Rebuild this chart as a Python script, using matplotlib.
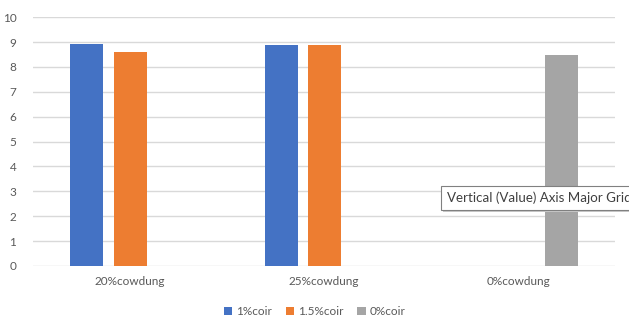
import matplotlib.pyplot as plt
from matplotlib.patches import Rectangle
import numpy as np

plt.rcParams['font.family'] = ['Lato', 'DejaVu Sans']

categories = ['20%cowdung', '25%cowdung', '0%cowdung']
series_names = ['1%coir', '1.5%coir', '0%coir']
coir_1 = [8.92, 8.88, 0]
coir_15 = [8.6, 8.88, 0]
coir_0 = [0, 0, 8.47]
colors = ['#4472c4', '#ed7d31', '#a5a5a5']

fig = plt.figure(figsize=(6.29, 3.23), dpi=100)
ax = fig.add_axes([0.0525, 0.1765, 0.9255, 0.7705])

x = np.arange(len(categories))
width = 0.17
step = 0.222
for k, (vals, name, c) in enumerate(zip([coir_1, coir_15, coir_0], series_names, colors)):
    ax.bar(x + (k - 1) * step, vals, width, color=c, label=name, zorder=3)

ax.set_xlim(-0.5, 2.5)
ax.set_ylim(0, 10)
ax.set_yticks(range(0, 11))
ax.yaxis.grid(True, color='#d9d9d9', linewidth=1, zorder=0)
for s in ax.spines.values():
    s.set_visible(False)
ax.tick_params(axis='both', length=0, colors='#595959', labelsize=8.5)
ax.tick_params(axis='y', pad=12)
ax.tick_params(axis='x', pad=7)
ax.set_xticks(x)
ax.set_xticklabels(categories)

leg = fig.legend(loc='center', bbox_to_anchor=(0.5, 0.035), ncol=3, frameon=False,
                 fontsize=8.5, handlelength=0.7, handleheight=0.7, handletextpad=0.3,
                 columnspacing=1.2)
for t in leg.get_texts():
    t.set_color('#595959')

# hover tooltip over the gridlines (runs off the right edge)
fig.add_artist(Rectangle((0.704, 0.344), 0.4, 0.074, transform=fig.transFigure,
                         fc='#c8c8c8', ec='none', zorder=5))
fig.add_artist(Rectangle((0.701, 0.350), 0.4, 0.074, transform=fig.transFigure,
                         fc='white', ec='#808080', lw=0.8, zorder=6))
fig.text(0.711, 0.387, 'Vertical (Value) Axis Major Gridlines', fontsize=9.6,
         color='#404040', va='center', ha='left', zorder=7)

fig.savefig('out.png', dpi=100)
